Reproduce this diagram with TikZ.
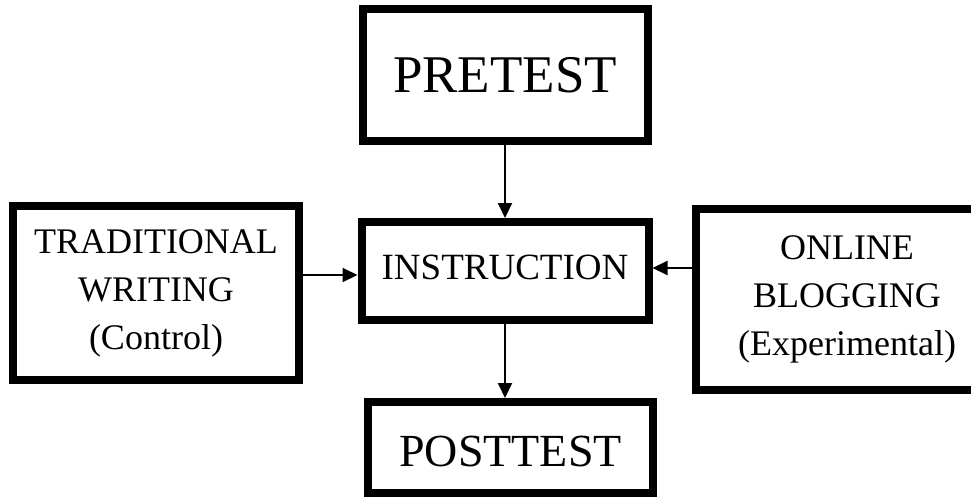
\documentclass[tikz,border=0pt]{standalone}
\usepackage{fontspec}
\setmainfont{Liberation Serif}
\usetikzlibrary{arrows.meta}

\tikzset{
  box/.style={draw=black, line width=8pt, rectangle, align=center, inner sep=0pt, fill=white},
  flow/.style={line width=2pt, -{Triangle[length=15pt,width=14pt]}},
}

\begin{document}
\begin{tikzpicture}[x=1pt, y=-1pt]
  \useasboundingbox (0,0) rectangle (971,499);

  % main column
  \node[box, minimum width=285pt, minimum height=132pt,
        font=\fontsize{53}{60}\selectfont] (pre) at (505,75) {PRETEST};
  \node[box, minimum width=287pt, minimum height=98pt, text depth=8pt,
        font=\fontsize{37}{44}\selectfont] (ins) at (505,271) {INSTRUCTION};
  \node[box, minimum width=285pt, minimum height=91pt, text height=38pt,
        font=\fontsize{46}{52}\selectfont] (post) at (510.5,447.5) {POSTTEST};

  % the two treatment groups
  \node[box, minimum width=286pt, minimum height=174pt,
        font=\fontsize{36}{48}\selectfont] (trad) at (156,293)
        {TRADITIONAL\\WRITING\\(Control)};
  \node[box, minimum width=302pt, minimum height=181pt,
        font=\fontsize{36}{48}\selectfont] (blog) at (847,299.5)
        {ONLINE\\BLOGGING\\(Experimental)};

  % connectors
  \draw[flow] (pre.south) -- (ins.north);
  \draw[flow] (ins.south) -- (ins.south |- post.north);
  \draw[flow] (trad.east |- 0,275) -- (ins.west |- 0,275);
  \draw[flow] (blog.west |- 0,268) -- (ins.east |- 0,268);
\end{tikzpicture}
\end{document}
